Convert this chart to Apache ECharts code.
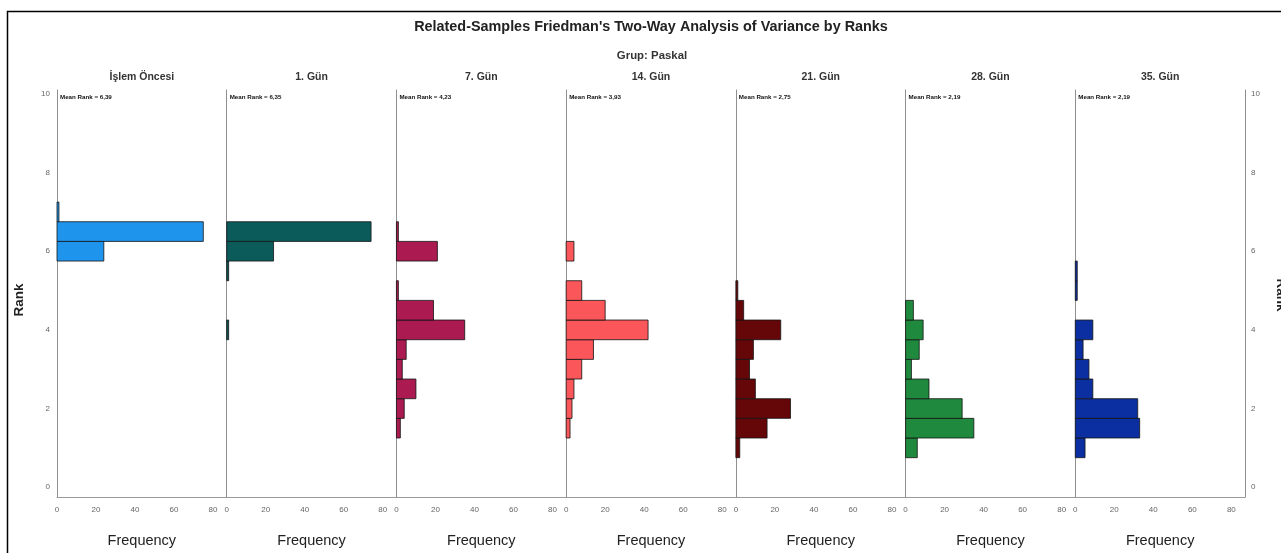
<!DOCTYPE html>
<html>
<head>
<meta charset="utf-8">
<script src="https://cdn.jsdelivr.net/npm/echarts@6/dist/echarts.min.js"></script>
<style>
  html, body { margin: 0; padding: 0; background: #fff; }
  #chart { width: 1281px; height: 553px; }
</style>
</head>
<body>
<div id="chart"></div>
<script>
// Rank bins (centre of each 0.5-wide bin) shared by every panel
const rankBins = [1, 1.5, 2, 2.5, 3, 3.5, 4, 4.5, 5, 5.5, 6, 6.5, 7];
const binWidth = 0.5;

// Panel headings and mean ranks
const panelNames = ['İşlem Öncesi', '1. Gün', '7. Gün', '14. Gün', '21. Gün', '28. Gün', '35. Gün'];
const meanRanks = ['6,39', '6,35', '4,23', '3,93', '2,75', '2,19', '2,19'];

// Frequencies per rank bin, one array per time point
const islemOncesi = [0, 0, 0, 0, 0, 0, 0, 0, 0, 0, 24, 75, 1];
const gun1        = [0, 0, 0, 0, 0, 0, 1, 0, 0, 1, 24, 74, 0];
const gun7        = [0, 2, 4, 10, 3, 5, 35, 19, 1, 0, 21, 1, 0];
const gun14       = [0, 2, 3, 4, 8, 14, 42, 20, 8, 0, 4, 0, 0];
const gun21       = [2, 16, 28, 10, 7, 9, 23, 4, 1, 0, 0, 0, 0];
const gun28       = [6, 35, 29, 12, 3, 7, 9, 4, 0, 0, 0, 0, 0];
const gun35       = [5, 33, 32, 9, 7, 4, 9, 0, 1, 1, 0, 0, 0];
const seriesValues = [islemOncesi, gun1, gun7, gun14, gun21, gun28, gun35];

// Tick labels
const rankTicks = [0, 2, 4, 6, 8, 10];
const freqTicks = [0, 20, 40, 60, 80];

const colors = ['#1f94ec', '#0c5b5b', '#ab1a50', '#fb5659', '#650608', '#1f8a3d', '#0b2fa0'];

// Layout
const plotLeft = 57, plotRight = 1245, plotTop = 90, plotBottom = 497;
const panelW = (plotRight - plotLeft) / 7;
const FONT = '"Liberation Sans", Arial, sans-serif';

const grids = [], xAxes = [], yAxes = [], series = [], graphics = [];

for (let i = 0; i < 7; i++) {
  const left = plotLeft + i * panelW;
  grids.push({ left: left, width: panelW, top: plotTop, height: plotBottom - plotTop });

  xAxes.push({
    type: 'value', gridIndex: i, min: 0, max: 87,
    axisLine: { show: true, onZero: false, lineStyle: { color: '#9a9a9a', width: 1 } },
    axisTick: { show: false },
    splitLine: { show: false },
    axisLabel: {
      customValues: freqTicks, color: '#666', fontSize: 8, fontFamily: FONT, margin: 9
    }
  });

  yAxes.push({
    type: 'value', gridIndex: i, min: -0.25, max: 10.1,
    axisLine: { show: true, onZero: false, lineStyle: { color: '#8f8f8f', width: 1 } },
    axisTick: { show: false },
    splitLine: { show: false },
    axisLabel: {
      show: i === 0, customValues: rankTicks, color: '#666', fontSize: 8, fontFamily: FONT, margin: 7
    }
  });

  const color = colors[i];
  series.push({
    type: 'custom',
    xAxisIndex: i,
    yAxisIndex: i,
    data: seriesValues[i].map((f, k) => [f, rankBins[k]]),
    renderItem: function (params, api) {
      const f = api.value(0), r = api.value(1);
      if (!f) return null;
      const p0 = api.coord([0, r + binWidth / 2]);
      const p1 = api.coord([f, r - binWidth / 2]);
      return {
        type: 'rect',
        shape: { x: p0[0], y: p0[1], width: p1[0] - p0[0], height: p1[1] - p0[1] },
        style: { fill: color, stroke: 'rgba(20,20,20,0.8)', lineWidth: 1 }
      };
    },
    silent: true
  });

  // panel heading, mean rank and axis title
  graphics.push({
    type: 'text', x: left + panelW / 2, y: 77,
    style: { text: panelNames[i], font: 'bold 10.5px ' + FONT, fill: '#333', align: 'center', verticalAlign: 'middle' }
  });
  graphics.push({
    type: 'text', x: left + 3, y: 97,
    style: { text: 'Mean Rank = ' + meanRanks[i], font: 'bold 6.2px ' + FONT, fill: '#111', align: 'left', verticalAlign: 'middle' }
  });
  graphics.push({
    type: 'text', x: left + panelW / 2, y: 541,
    style: { text: 'Frequency', font: '14.5px ' + FONT, fill: '#222', align: 'center', verticalAlign: 'middle' }
  });
}

// right-hand rank axis on the last panel
yAxes.push({
  type: 'value', gridIndex: 6, min: -0.25, max: 10.1, position: 'right',
  axisLine: { show: true, onZero: false, lineStyle: { color: '#8f8f8f', width: 1 } },
  axisTick: { show: false },
  splitLine: { show: false },
  axisLabel: { customValues: rankTicks, color: '#666', fontSize: 8, fontFamily: FONT, margin: 6 }
});

graphics.push(
  {
    type: 'rect', shape: { x: 7.5, y: 11.5, width: 1400, height: 700 },
    style: { fill: 'none', stroke: '#000', lineWidth: 1.5 }, silent: true
  },
  {
    type: 'text', x: 651, y: 27,
    style: { text: "Related-Samples Friedman's Two-Way Analysis of Variance by Ranks", font: 'bold 14.4px ' + FONT, fill: '#222', align: 'center', verticalAlign: 'middle' }
  },
  {
    type: 'text', x: 652, y: 56,
    style: { text: 'Grup: Paskal', font: 'bold 11.4px ' + FONT, fill: '#333', align: 'center', verticalAlign: 'middle' }
  },
  {
    type: 'text', x: 19, y: 300, rotation: Math.PI / 2,
    style: { text: 'Rank', font: 'bold 13.5px ' + FONT, fill: '#222', align: 'center', verticalAlign: 'middle' }
  },
  {
    type: 'text', x: 1281, y: 295, rotation: -Math.PI / 2,
    style: { text: 'Rank', font: 'bold 13.5px ' + FONT, fill: '#222', align: 'center', verticalAlign: 'middle' }
  }
);

const chart = echarts.init(document.getElementById('chart'), null, { renderer: 'canvas' });
chart.setOption({
  animation: false,
  backgroundColor: '#fff',
  grid: grids,
  xAxis: xAxes,
  yAxis: yAxes,
  series: series,
  graphic: graphics
});
</script>
</body>
</html>
